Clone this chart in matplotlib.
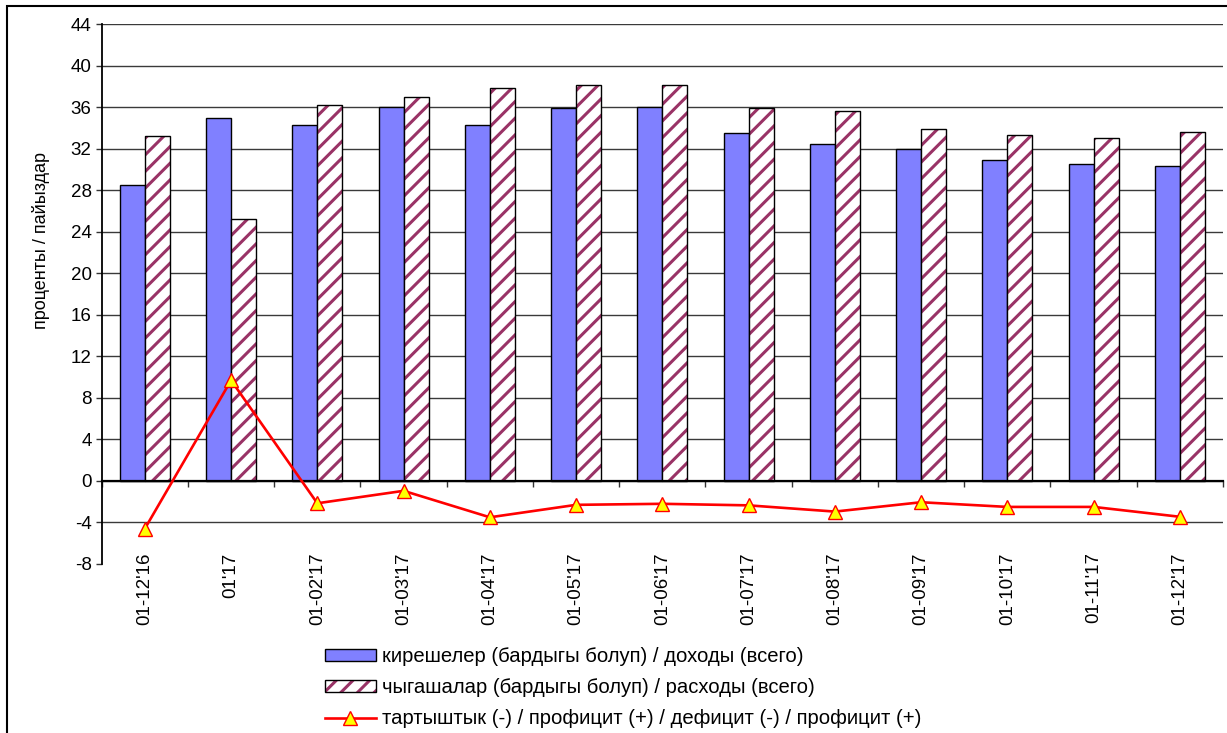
import numpy as np
import matplotlib
matplotlib.use("Agg")
import matplotlib.pyplot as plt
from matplotlib.patches import Patch, Rectangle
from matplotlib.lines import Line2D

plt.rcParams['font.family'] = ['Liberation Sans', 'DejaVu Sans']
plt.rcParams['hatch.linewidth'] = 2.2

# ----------------------------
# DATA
# ----------------------------
periods = ["01-12'16", "01'17", "01-02'17", "01-03'17", "01-04'17", "01-05'17",
           "01-06'17", "01-07'17", "01-08'17", "01-09'17", "01-10'17", "01-11'17",
           "01-12'17"]
revenue = [28.5, 35.0, 34.25, 36.05, 34.25, 35.9, 36.05, 33.5, 32.5, 32.0, 30.95, 30.55, 30.3]
expense = [33.2, 25.2, 36.2, 36.95, 37.85, 38.15, 38.15, 35.9, 35.65, 33.95, 33.3, 33.05, 33.6]
balance = [-4.6, 9.7, -2.15, -0.95, -3.5, -2.3, -2.2, -2.35, -2.95, -2.05, -2.5, -2.5, -3.45]

y_ticks = list(range(-8, 45, 4))

lbl_rev = "кирешелер (бардыгы болуп) / доходы (всего)"
lbl_exp = "чыгашалар (бардыгы болуп) / расходы (всего)"
lbl_bal = "тартыштык (-) / профицит (+) / дефицит (-) / профицит (+)"
y_label = "проценты / пайыздар"

BLUE = "#8080FF"
PLUM = "#993366"
FS = 13.5

W, H, DPI = 1227, 733, 100
fig = plt.figure(figsize=(W / DPI, H / DPI), dpi=DPI)
ax = fig.add_axes([101.7 / W, 1 - 564 / H, (1223 - 101.7) / W, (564 - 24.3) / H])

# spine position first: moving it resets tick settings
for s in ("top", "right"):
    ax.spines[s].set_visible(False)
ax.spines["bottom"].set_position(("data", 0))
ax.spines["bottom"].set_linewidth(1.6)
ax.spines["bottom"].set_zorder(3)
ax.spines["left"].set_linewidth(1.3)

x = np.arange(len(periods))
bw = 0.29

ax.bar(x - bw, revenue, width=bw, align="edge", color=BLUE,
       edgecolor="black", linewidth=1.0, zorder=2)
ax.bar(x, expense, width=bw, align="edge", color="white", hatch="//",
       edgecolor=PLUM, linewidth=0, zorder=2)
ax.bar(x, expense, width=bw, align="edge", facecolor="none",
       edgecolor="black", linewidth=1.0, zorder=2.1)

ax.plot(x, balance, color="red", lw=1.9, marker="^", ms=10.5,
        mfc="yellow", mec="red", mew=1.0, zorder=4, clip_on=False)

ax.set_xlim(-0.5, len(periods) - 0.5)
ax.set_ylim(-8, 44)
ax.set_yticks(y_ticks)
ax.set_yticklabels([str(v) for v in y_ticks], fontsize=FS)
ax.tick_params(axis="y", direction="out", length=4.3, width=1.0, pad=3, color="#333333")

ax.set_xticks(x)
ax.set_xticklabels(periods, rotation=90, fontsize=FS)
ax.set_xticks(np.arange(-0.5, len(periods), 1), minor=True)
ax.tick_params(axis="x", which="major", length=0, pad=51.5)
ax.tick_params(axis="x", which="minor", direction="out", length=4.3, width=1.0, color="#333333")

ax.yaxis.grid(True, color="#3a3a3a", lw=1.0)
ax.set_axisbelow(True)
ax.yaxis.get_gridlines()[0].set_visible(False)

fig.text(41 / W, 1 - 241 / H, y_label, rotation=90, ha="center", va="center", fontsize=13)

# legend
h_rev = Patch(facecolor=BLUE, edgecolor="black", linewidth=1.0)
h_exp = (Patch(facecolor="white", hatch="//", edgecolor=PLUM, linewidth=0),
         Patch(facecolor="none", edgecolor="black", linewidth=1.0))
h_bal = Line2D([], [], color="red", lw=1.9, marker="^", ms=10.5, mfc="yellow", mec="red", mew=1.0)
fig.legend([h_rev, h_exp, h_bal], [lbl_rev, lbl_exp, lbl_bal],
           loc="upper left", bbox_to_anchor=(325 / W, 1 - 647 / H),
           frameon=False, fontsize=14.6, borderpad=0, borderaxespad=0,
           handlelength=2.5, handleheight=0.55, handletextpad=0.3, labelspacing=0.6)

# outer chart frame
fig.patches.append(Rectangle((7 / W, -0.05), 1.2, 1 - 6 / H + 0.05, transform=fig.transFigure,
                             fill=False, edgecolor="black", linewidth=1.5, zorder=10))

fig.savefig("out.png", dpi=DPI)
